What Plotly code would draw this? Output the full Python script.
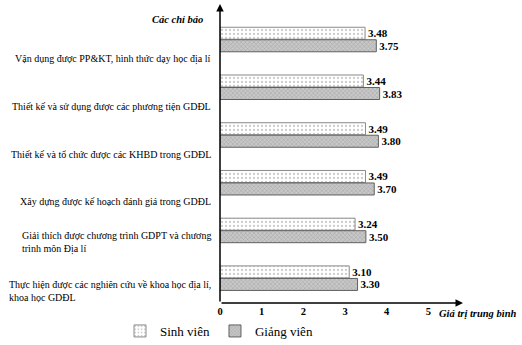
import plotly.graph_objects as go

categories = [
    "Vận dụng được PP&KT, hình thức dạy học địa lí",
    "Thiết kế và sử dụng được các phương tiện GDĐL",
    "Thiết kế và tổ chức được các KHBD trong GDĐL",
    "Xây dựng được kế hoạch đánh giá trong GDĐL",
    "Giải thích được chương trình GDPT và chương<br>trình môn Địa lí",
    "Thực hiện được các nghiên cứu về khoa học địa lí,<br>khoa học GDĐL",
]
sinh_vien = [3.48, 3.44, 3.49, 3.49, 3.24, 3.10]
giang_vien = [3.75, 3.83, 3.80, 3.70, 3.50, 3.30]
x_ticks = [0, 1, 2, 3, 4, 5]
series_names = ["Sinh viên", "Giảng viên"]

FONT = "Liberation Serif"
pos = list(range(len(categories)))
X_MAX = 5.83
Y_TOP = -0.744
Y_BOT = 5.52

fig = go.Figure()
fig.add_trace(go.Bar(
    y=pos, x=sinh_vien, orientation="h", name=series_names[0],
    marker=dict(color="white", line=dict(color="#8a8a8a", width=1),
                pattern=dict(shape=".", fgcolor="#9a9a9a", bgcolor="white", size=4, solidity=0.25)),
    texttemplate="<b>%{x:.2f}</b>", textposition="outside",
    textfont=dict(family=FONT, size=11, color="black"),
    cliponaxis=False,
))
fig.add_trace(go.Bar(
    y=pos, x=giang_vien, orientation="h", name=series_names[1],
    marker=dict(color="#bdbdbd", line=dict(color="#606060", width=1),
                pattern=dict(shape="x", fgcolor="#7a7a7a", bgcolor="#c8c8c8", size=3, solidity=0.3)),
    texttemplate="<b>%{x:.2f}</b>", textposition="outside",
    textfont=dict(family=FONT, size=11, color="black"),
    cliponaxis=False,
))

annotations = []
for i, lab in enumerate(categories):
    off = 0.26 if "<br>" in lab else 0.4
    annotations.append(dict(
        x=0, xref="paper", y=i + off, yref="y", xanchor="right", yanchor="middle",
        xshift=-7, text=lab, showarrow=False, align="left",
        font=dict(family=FONT, size=10, color="black"),
    ))
# axis arrows
annotations.append(dict(x=X_MAX, y=Y_BOT, ax=0, ay=Y_BOT, xref="x", yref="y",
                        axref="x", ayref="y", text="", showarrow=True,
                        arrowhead=2, arrowsize=1, arrowwidth=1.5, arrowcolor="black"))
annotations.append(dict(x=0, y=Y_TOP, ax=0, ay=Y_BOT, xref="x", yref="y",
                        axref="x", ayref="y", text="", showarrow=True,
                        arrowhead=2, arrowsize=1, arrowwidth=1.5, arrowcolor="black"))
annotations.append(dict(x=0, xref="paper", y=Y_TOP, yref="y", xanchor="right",
                        yanchor="middle", xshift=-15, yshift=-15,
                        text="<b><i>Các chỉ báo</i></b>", showarrow=False,
                        font=dict(family=FONT, size=10.5, color="black")))
annotations.append(dict(x=5.2, xref="x", y=0, yref="paper", xanchor="left",
                        yanchor="middle", yshift=-10,
                        text="<b><i>Giá trị trung bình</i></b>", showarrow=False,
                        font=dict(family=FONT, size=10.5, color="black")))

fig.update_layout(
    width=522, height=345,
    margin=dict(l=220, r=59, t=4, b=42, autoexpand=False),
    paper_bgcolor="white", plot_bgcolor="white",
    barmode="group", bargap=0.476, bargroupgap=0.04,
    font=dict(family=FONT, size=11, color="black"),
    xaxis=dict(range=[0, X_MAX], tickvals=x_ticks, ticktext=[f"<b>{v}</b>" for v in x_ticks],
               showgrid=False, zeroline=False, showline=False, ticks="",
               tickfont=dict(family=FONT, size=10.5, color="black")),
    yaxis=dict(range=[Y_BOT, Y_TOP], showticklabels=False, showgrid=False,
               zeroline=False, showline=False, ticks=""),
    showlegend=True,
    legend=dict(orientation="h", x=120 / 522, xref="container", xanchor="left",
                y=1 - 331 / 345, yref="container", yanchor="middle",
                font=dict(family=FONT, size=13, color="black"),
                tracegroupgap=0, itemclick=False),
    annotations=annotations,
)
fig.write_html("out.html")
